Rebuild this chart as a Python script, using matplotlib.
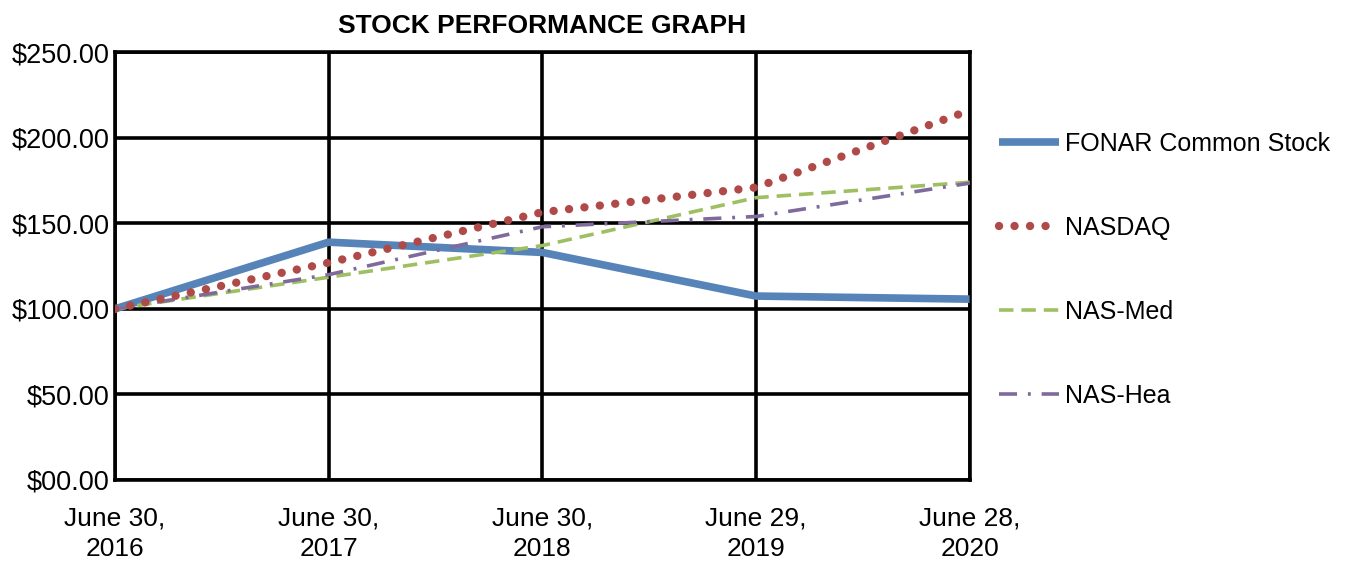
import matplotlib.pyplot as plt
from matplotlib.ticker import FuncFormatter

plt.rcParams['font.family'] = ['Liberation Sans', 'DejaVu Sans']

# values
dates = ['June 30,\n2016', 'June 30,\n2017', 'June 30,\n2018', 'June 29,\n2019', 'June 28,\n2020']
fonar = [100, 139, 133, 107.5, 105.7]
nasdaq = [100, 127, 156.5, 171, 216]
nas_med = [100, 118.5, 137, 165, 174]
nas_hea = [100, 120, 148, 154, 173.5]
yticks = [0, 50, 100, 150, 200, 250]

x = list(range(len(dates)))

fig = plt.figure(figsize=(13.48, 5.68), dpi=100)
ax = fig.add_axes([0.0853, 0.155, 0.634, 0.753])

ax.plot(x, fonar, color='#5683b8', lw=5.5, solid_capstyle='butt', label='FONAR Common Stock', zorder=3)
ax.plot(x, nasdaq, color='#b04a48', lw=6, linestyle=(0, (0.01, 1.85)), dash_capstyle='round',
        label='NASDAQ', zorder=4)
ax.plot(x, nas_med, color='#9fbf63', lw=2.6, linestyle=(0, (4, 2.2)), label='NAS-Med', zorder=3)
ax.plot(x, nas_hea, color='#7f6a9c', lw=2.6, linestyle=(0, (5, 3, 0.8, 3)), label='NAS-Hea', zorder=3)

ax.set_xlim(0, 4)
ax.set_ylim(0, 250)
ax.set_xticks(x)
ax.set_xticklabels(dates, fontsize=19, linespacing=1.35)
ax.set_yticks(yticks)
ax.yaxis.set_major_formatter(FuncFormatter(lambda v, p: '$%05.2f' % v if v < 100 else '$%.2f' % v))
ax.tick_params(axis='y', labelsize=19.5, length=0, pad=4)
ax.tick_params(axis='x', length=0, pad=19)
ax.grid(True, color='black', lw=2.6, zorder=1)
for s in ax.spines.values():
    s.set_linewidth(2.6)
    s.set_color('black')

ax.set_title('STOCK PERFORMANCE GRAPH', fontsize=19, fontweight='bold', pad=14)

leg = ax.legend(loc='upper left', bbox_to_anchor=(1.008, 0.867), frameon=False, fontsize=18,
                labelspacing=2.4, handlelength=2.4, handletextpad=0.25)

fig.savefig('out.png', dpi=100)
